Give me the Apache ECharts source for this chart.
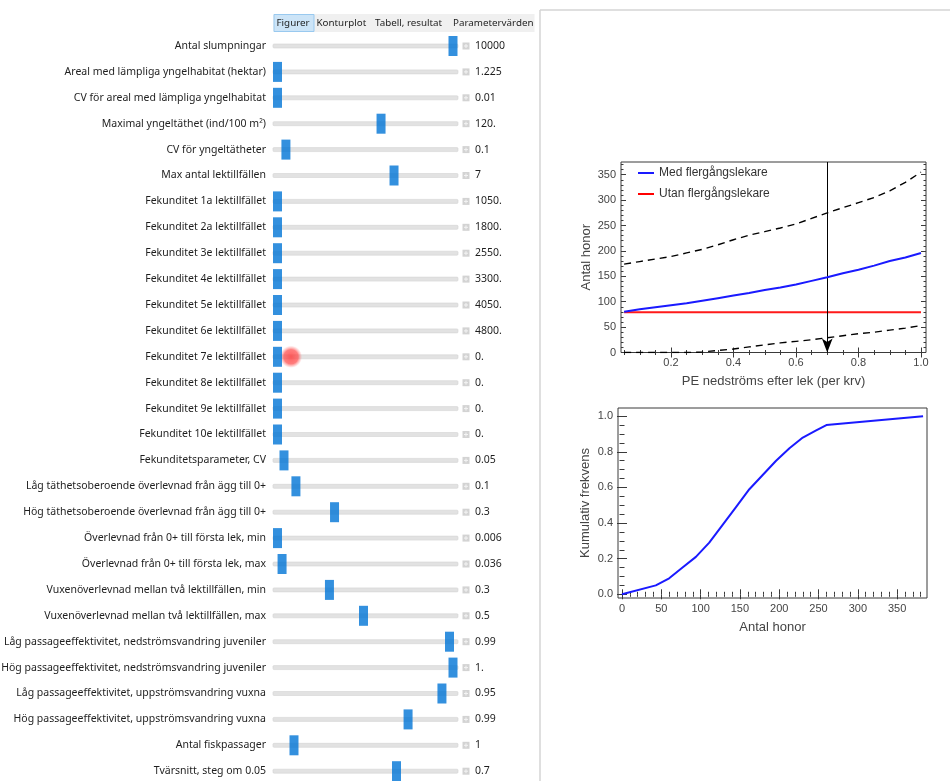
<!DOCTYPE html>
<html>
<head>
<meta charset="utf-8">
<script src="https://cdn.jsdelivr.net/npm/echarts@6/dist/echarts.min.js"></script>
<style>
  html, body { margin: 0; padding: 0; background: #ffffff; }
  #chart { width: 950px; height: 781px; }
</style>
</head>
<body>
<div id="chart"></div>
<script>
// ---------------- DATA ----------------
const tabLabels = ['Figurer', 'Konturplot', 'Tabell, resultat', 'Parametervärden'];

const sliderLabels = [
  'Antal slumpningar',
  'Areal med lämpliga yngelhabitat (hektar)',
  'CV för areal med lämpliga yngelhabitat',
  'Maximal yngeltäthet (ind/100 m²)',
  'CV för yngeltätheter',
  'Max antal lektillfällen',
  'Fekunditet 1a lektillfället',
  'Fekunditet 2a lektillfället',
  'Fekunditet 3e lektillfället',
  'Fekunditet 4e lektillfället',
  'Fekunditet 5e lektillfället',
  'Fekunditet 6e lektillfället',
  'Fekunditet 7e lektillfället',
  'Fekunditet 8e lektillfället',
  'Fekunditet 9e lektillfället',
  'Fekunditet 10e lektillfället',
  'Fekunditetsparameter, CV',
  'Låg täthetsoberoende överlevnad från ägg till 0+',
  'Hög täthetsoberoende överlevnad från ägg till 0+',
  'Överlevnad från 0+ till första lek, min',
  'Överlevnad från 0+ till första lek, max',
  'Vuxenöverlevnad mellan två lektillfällen, min',
  'Vuxenöverlevnad mellan två lektillfällen, max',
  'Låg passageeffektivitet, nedströmsvandring juveniler',
  'Hög passageeffektivitet, nedströmsvandring juveniler',
  'Låg passageeffektivitet, uppströmsvandring vuxna',
  'Hög passageeffektivitet, uppströmsvandring vuxna',
  'Antal fiskpassager',
  'Tvärsnitt, steg om 0.05'
];
const sliderValues = ['10000', '1.225', '0.01', '120.', '0.1', '7', '1050.', '1800.', '2550.', '3300.',
  '4050.', '4800.', '0.', '0.', '0.', '0.', '0.05', '0.1', '0.3', '0.006', '0.036', '0.3', '0.5',
  '0.99', '1.', '0.95', '0.99', '1', '0.7'];
// slider thumb position as fraction of the slider track
const sliderPositions = [1, 0, 0, 0.59, 0.048, 0.664, 0, 0, 0, 0, 0, 0, 0, 0, 0, 0, 0.037, 0.105, 0.325,
  0, 0.026, 0.296, 0.49, 0.98, 1, 0.937, 0.744, 0.094, 0.678];
const highlightRow = 12;
const highlightPos = 0.077;

// Plot 1
const peX = [0.05, 0.1, 0.15, 0.2, 0.25, 0.3, 0.35, 0.4, 0.45, 0.5, 0.55, 0.6, 0.65, 0.7, 0.75, 0.8, 0.85, 0.9, 0.95, 1.0];
const medFlergang = [80, 85, 89, 93, 97, 102, 107, 112, 117, 123, 128, 134, 141, 148, 156, 163, 171, 180, 187, 196];
const utanFlergang = [79, 79, 79, 79, 79, 79, 79, 79, 79, 79, 79, 79, 79, 79, 79, 79, 79, 79, 79, 79];
const upperBand = [174, 179, 184, 189, 196, 203, 212, 222, 231, 238, 245, 253, 264, 275, 285, 295, 305, 318, 335, 355];
const lowerBand = [0, 0, 0, 0, 0, 1, 4, 7, 11, 15, 19, 22, 25, 29, 33, 37, 40, 44, 48, 53];
const arrowX = 0.7;
const p1XTicks = [0.2, 0.4, 0.6, 0.8, 1.0];
const p1XMinor = [0.05, 0.1, 0.15, 0.25, 0.3, 0.35, 0.45, 0.5, 0.55, 0.65, 0.7, 0.75, 0.85, 0.9, 0.95];
const p1YTicks = [0, 50, 100, 150, 200, 250, 300, 350];
const p1YMinor = [10, 20, 30, 40, 60, 70, 80, 90, 110, 120, 130, 140, 160, 170, 180, 190, 210, 220, 230, 240,
  260, 270, 280, 290, 310, 320, 330, 340, 360, 370];

// Plot 2
const honorX = [0, 43, 60, 77, 94, 111, 128, 145, 162, 179, 196, 213, 230, 247, 260, 383];
const kumFrek = [0, 0.05, 0.09, 0.15, 0.21, 0.29, 0.39, 0.49, 0.59, 0.67, 0.75, 0.82, 0.88, 0.92, 0.95, 1.0];
const p2XTicks = [0, 50, 100, 150, 200, 250, 300, 350];
const p2XMinor = [10, 20, 30, 40, 60, 70, 80, 90, 110, 120, 130, 140, 160, 170, 180, 190, 210, 220, 230, 240,
  260, 270, 280, 290, 310, 320, 330, 340, 360, 370, 380];
const p2YTicks = [0, 0.2, 0.4, 0.6, 0.8, 1.0];
const p2YMinor = [0.05, 0.1, 0.15, 0.25, 0.3, 0.35, 0.45, 0.5, 0.55, 0.65, 0.7, 0.75, 0.85, 0.9, 0.95];

// ---------------- CHART ----------------
const uiFont = 'Noto Sans';
const plotFont = 'Liberation Sans';
const frameColor = '#3a3a3a';
const textColor = '#444444';

function frameAxes(dim, gridIndex, min, max, major, minor, fmt, name, nameGap) {
  const posA = dim === 'x' ? 'bottom' : 'left';
  const posB = dim === 'x' ? 'top' : 'right';
  const base = (pos, vals, len, labels) => ({
    type: 'value', gridIndex, min, max, position: pos,
    axisLine: { show: false },
    splitLine: { show: false },
    axisTick: { show: true, inside: true, length: len, customValues: vals, lineStyle: { color: frameColor, width: 1 } },
    axisLabel: labels ? {
      show: true, customValues: vals, formatter: fmt, color: textColor, fontSize: 11,
      fontFamily: plotFont, margin: 5
    } : { show: false }
  });
  const a = base(posA, major, 5, true);
  a.name = name;
  a.nameLocation = 'middle';
  a.nameGap = nameGap;
  a.nameTextStyle = { color: textColor, fontSize: 13, fontFamily: plotFont };
  return [a, base(posA, minor, 2.5, false), base(posB, major, 5, false), base(posB, minor, 2.5, false)];
}

const xAxes = [
  { type: 'value', gridIndex: 0, min: -0.02564, max: 1.0969, show: false }
].concat(
  frameAxes('x', 1, 0.04, 1.016, p1XTicks, p1XMinor, v => (+v).toFixed(1), 'PE nedströms efter lek (per krv)', 22),
  frameAxes('x', 2, -5.1, 388, p2XTicks, p2XMinor, v => String(Math.round(v)), 'Antal honor', 23)
);

const yAxes = [
  {
    type: 'category', gridIndex: 0, inverse: true, data: sliderLabels, position: 'left',
    axisLine: { show: false }, axisTick: { show: false }, splitLine: { show: false },
    axisLabel: { margin: 7, color: '#1e1e1e', fontSize: 10.5, fontFamily: uiFont, interval: 0 }
  },
  {
    type: 'category', gridIndex: 0, inverse: true, data: sliderValues, position: 'right',
    axisLine: { show: false }, axisTick: { show: false }, splitLine: { show: false },
    axisLabel: { margin: 5, color: '#1e1e1e', fontSize: 10.5, fontFamily: uiFont, align: 'left', interval: 0 }
  }
].concat(
  frameAxes('y', 1, 0, 375, p1YTicks, p1YMinor, v => String(Math.round(v)), 'Antal honor', 28),
  frameAxes('y', 2, -0.0208, 1.046, p2YTicks, p2YMinor, v => (+v).toFixed(1), 'Kumulativ frekvens', 26)
);

const zip = (xs, ys) => xs.map((x, i) => [x, ys[i]]);
const tabFont = '9.8px "Noto Sans"';

const option = {
  animation: false,
  backgroundColor: '#ffffff',
  grid: [
    { left: 273, top: 33.05, width: 197, height: 751.1, show: false, outerBoundsMode: 'none', containLabel: false },
    { left: 621, top: 162, width: 305, height: 190.5, show: true, borderColor: frameColor, borderWidth: 1, outerBoundsMode: 'none', containLabel: false },
    { left: 618, top: 408, width: 309, height: 190, show: true, borderColor: frameColor, borderWidth: 1, outerBoundsMode: 'none', containLabel: false }
  ],
  xAxis: xAxes,
  yAxis: yAxes,
  legend: {
    orient: 'vertical', left: 638, top: 166, padding: 0, itemWidth: 16, itemHeight: 2, itemGap: 7, icon: 'rect',
    data: ['Med flergångslekare', 'Utan flergångslekare'],
    textStyle: { color: '#333', fontSize: 12, fontFamily: plotFont, lineHeight: 14 },
    selectedMode: false
  },
  graphic: [
    // right panel frame
    { type: 'line', shape: { x1: 540, y1: 10, x2: 540, y2: 781 }, style: { stroke: '#d5d5d5', lineWidth: 1.5 } },
    { type: 'line', shape: { x1: 540, y1: 10, x2: 950, y2: 10 }, style: { stroke: '#d5d5d5', lineWidth: 1.5 } },
    // tab bar
    { type: 'rect', shape: { x: 273.5, y: 14, width: 261, height: 18 }, style: { fill: '#f0f0f0' } },
    { type: 'rect', shape: { x: 274, y: 14.5, width: 40, height: 17 }, style: { fill: '#cce4f7', stroke: '#99c9ef', lineWidth: 1 } },
    { type: 'text', x: 276.5, y: 23, style: { text: tabLabels[0], fill: '#1e1e1e', font: tabFont, verticalAlign: 'middle' } },
    { type: 'text', x: 316.5, y: 23, style: { text: tabLabels[1], fill: '#1e1e1e', font: tabFont, verticalAlign: 'middle' } },
    { type: 'text', x: 375, y: 23, style: { text: tabLabels[2], fill: '#1e1e1e', font: tabFont, verticalAlign: 'middle' } },
    { type: 'text', x: 453, y: 23, style: { text: tabLabels[3], fill: '#1e1e1e', font: tabFont, verticalAlign: 'middle' } }
  ],
  series: [
    // slider tracks + plus icons
    {
      type: 'custom', xAxisIndex: 0, yAxisIndex: 0, z: 1, silent: true,
      data: sliderPositions.map((p, i) => [p, i]),
      renderItem: function (params, api) {
        const row = api.value(1);
        const p0 = api.coord([0, row]);
        const p1 = api.coord([1, row]);
        const cs = params.coordSys;
        const px = cs.x + cs.width - 4;
        const py = p0[1];
        return {
          type: 'group',
          children: [
            { type: 'rect', shape: { x: p0[0] - 4.5, y: py - 2, width: p1[0] - p0[0] + 9.5, height: 4, r: 1 },
              style: { fill: '#e2e2e2', stroke: '#d4d4d4', lineWidth: 0.6 } },
            { type: 'rect', shape: { x: px - 3.5, y: py - 3.5, width: 7, height: 7 }, style: { fill: '#d3d3d3' } },
            { type: 'line', shape: { x1: px - 2, y1: py, x2: px + 2, y2: py }, style: { stroke: '#f4f4f4', lineWidth: 1 } },
            { type: 'line', shape: { x1: px, y1: py - 2, x2: px, y2: py + 2 }, style: { stroke: '#f4f4f4', lineWidth: 1 } }
          ]
        };
      }
    },
    // hover highlight
    {
      type: 'scatter', xAxisIndex: 0, yAxisIndex: 0, z: 2, silent: true,
      symbol: 'circle', symbolSize: 22,
      data: [[highlightPos, highlightRow]],
      itemStyle: {
        color: {
          type: 'radial', x: 0.5, y: 0.5, r: 0.5,
          colorStops: [
            { offset: 0, color: 'rgba(255,55,55,1)' },
            { offset: 0.65, color: 'rgba(255,75,75,0.9)' },
            { offset: 1, color: 'rgba(255,130,130,0.05)' }
          ]
        }
      }
    },
    // slider thumbs
    {
      type: 'scatter', xAxisIndex: 0, yAxisIndex: 0, z: 3, silent: true,
      symbol: 'rect', symbolSize: [9, 20],
      data: sliderPositions.map((p, i) => [p, i]),
      itemStyle: { color: '#0074d6' }
    },
    // plot 1
    {
      name: 'upper', type: 'line', xAxisIndex: 1, yAxisIndex: 2, data: zip(peX, upperBand),
      showSymbol: false, symbol: 'none', lineStyle: { color: '#000', width: 1.4, type: [7, 5] }, z: 3
    },
    {
      name: 'lower', type: 'line', xAxisIndex: 1, yAxisIndex: 2, data: zip(peX, lowerBand),
      showSymbol: false, symbol: 'none', lineStyle: { color: '#000', width: 1.4, type: [7, 5] }, z: 3
    },
    {
      name: 'Utan flergångslekare', type: 'line', xAxisIndex: 1, yAxisIndex: 2, data: zip(peX, utanFlergang),
      showSymbol: false, symbol: 'none', color: '#ff0000', lineStyle: { color: '#ff1a1a', width: 2 }, z: 4
    },
    {
      name: 'Med flergångslekare', type: 'line', xAxisIndex: 1, yAxisIndex: 2, data: zip(peX, medFlergang),
      showSymbol: false, symbol: 'none', color: '#1a1aff', lineStyle: { color: '#1a1aff', width: 2 }, z: 5,
      markLine: {
        silent: true, symbol: ['none', 'arrow'], symbolSize: [8, 14],
        label: { show: false },
        lineStyle: { color: '#000', width: 1, type: 'solid' },
        data: [[{ coord: [arrowX, 375] }, { coord: [arrowX, 0] }]]
      }
    },
    // plot 2
    {
      name: 'kum', type: 'line', xAxisIndex: 5, yAxisIndex: 6, data: zip(honorX, kumFrek),
      showSymbol: false, symbol: 'none', lineStyle: { color: '#1a1aff', width: 2 }
    }
  ]
};

const chart = echarts.init(document.getElementById('chart'), null, { renderer: 'canvas' });
chart.setOption(option);
</script>
</body>
</html>
